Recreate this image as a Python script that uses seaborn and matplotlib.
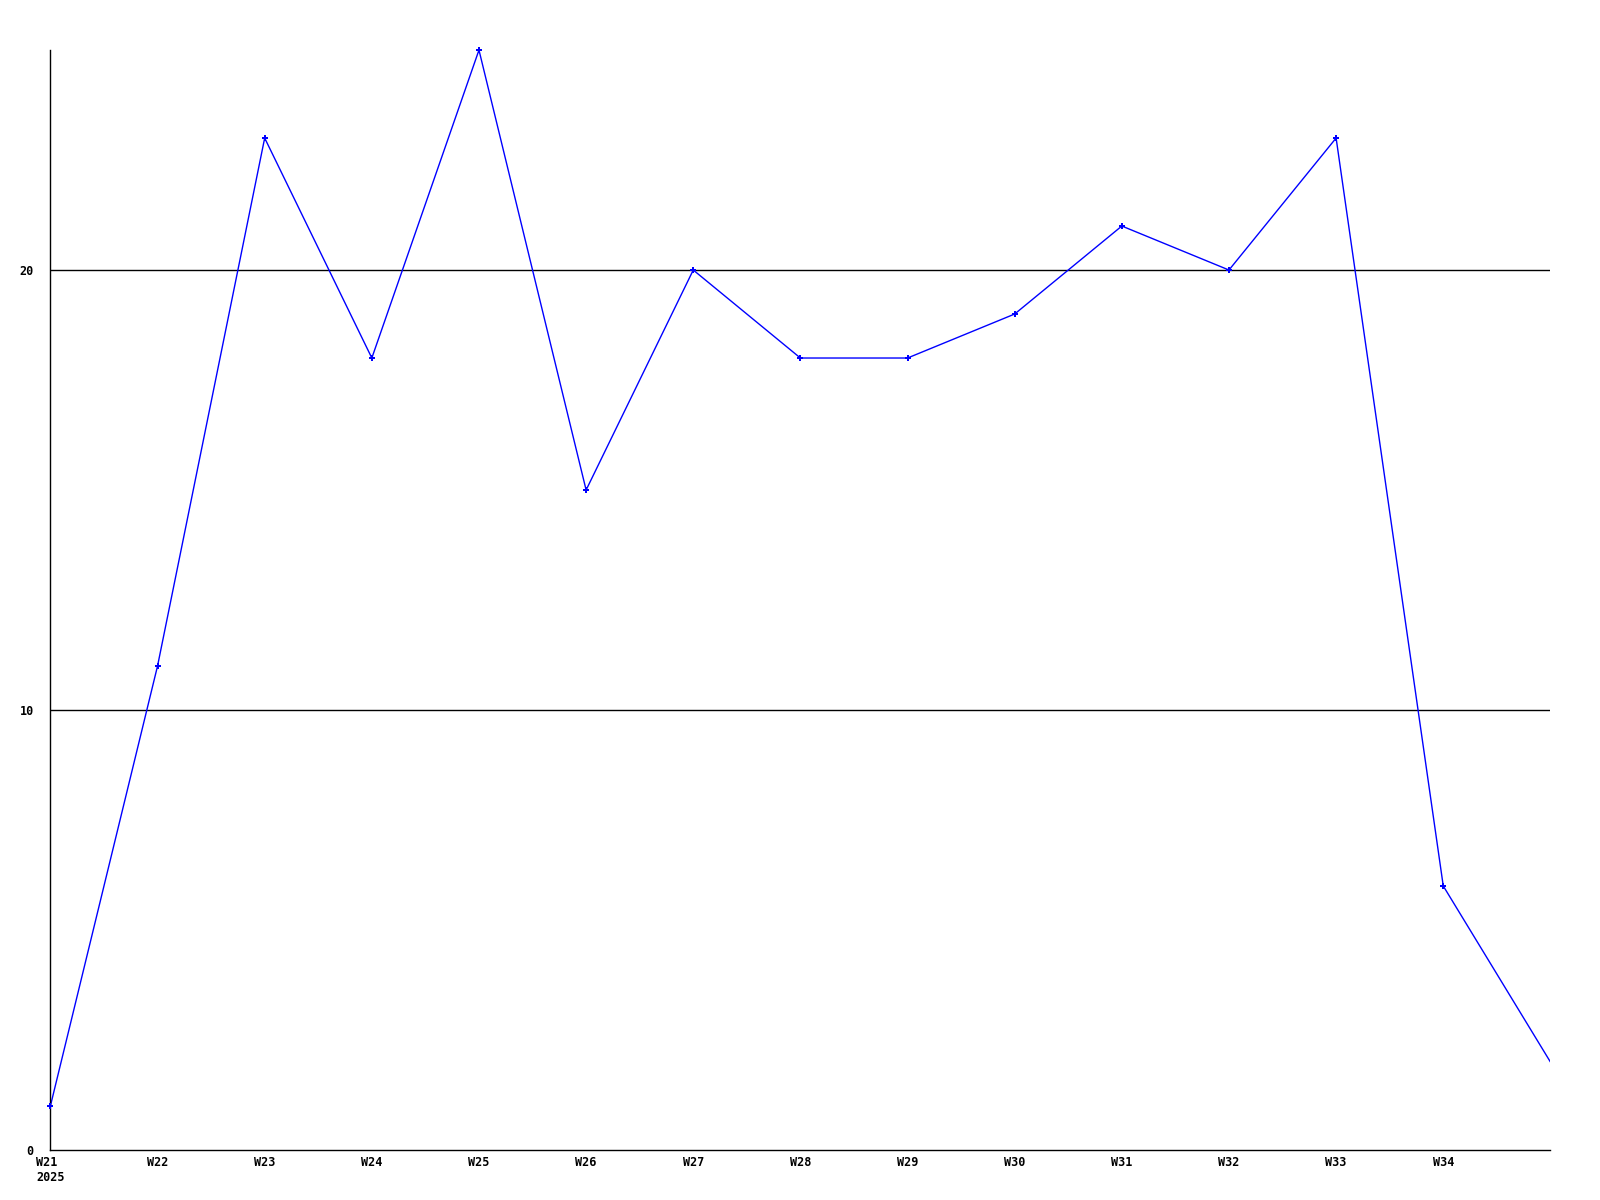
import matplotlib
matplotlib.use("Agg")
import matplotlib.pyplot as plt
import seaborn as sns
import pandas as pd

weeks = ["W21", "W22", "W23", "W24", "W25", "W26", "W27", "W28",
         "W29", "W30", "W31", "W32", "W33", "W34", "W35"]
values = [1, 11, 23, 18, 25, 15, 20, 18, 18, 19, 21, 20, 23, 6, 2]
tick_labels = ["W21 \n2025"] + weeks[1:14]

sns.set_style("white")
plt.rcParams['font.family'] = ['DejaVu Sans Mono']

df = pd.DataFrame({"pos": range(len(weeks)), "week": weeks, "value": values})

fig = plt.figure(figsize=(16, 12), dpi=100)
ax = fig.add_axes([0.0315, 0.0417, 0.9375, 0.9166])

# line through all weeks, markers only on the full weeks
sns.lineplot(data=df, x="pos", y="value", color="blue", linewidth=1, ax=ax)
sns.scatterplot(data=df.iloc[:14], x="pos", y="value", color="blue",
                marker="P", s=18, edgecolor="blue", linewidth=0, ax=ax,
                clip_on=False, zorder=3)

for g in [10, 20]:
    ax.axhline(g, color="black", linewidth=1, zorder=1)

ax.set_xlim(0, 14)
ax.set_ylim(0, 25)
ax.set_yticks([0, 10, 20])
ax.set_yticklabels(["0", "10", "20"], fontsize=8.5, fontweight="bold", color="black")
ax.set_xticks(range(14))
ax.set_xticklabels(tick_labels, fontsize=8.5, fontweight="bold", color="black",
                   linespacing=1.25)
ax.get_xticklabels()[0].set_multialignment("left")
ax.tick_params(axis="both", length=0)
ax.tick_params(axis="y", pad=12)
ax.tick_params(axis="x", pad=4)
ax.set_xlabel("")
ax.set_ylabel("")

for s in ["top", "right"]:
    ax.spines[s].set_visible(False)
for s in ["left", "bottom"]:
    ax.spines[s].set_color("black")
    ax.spines[s].set_linewidth(1)

fig.savefig("out.png", dpi=100, facecolor="white")
